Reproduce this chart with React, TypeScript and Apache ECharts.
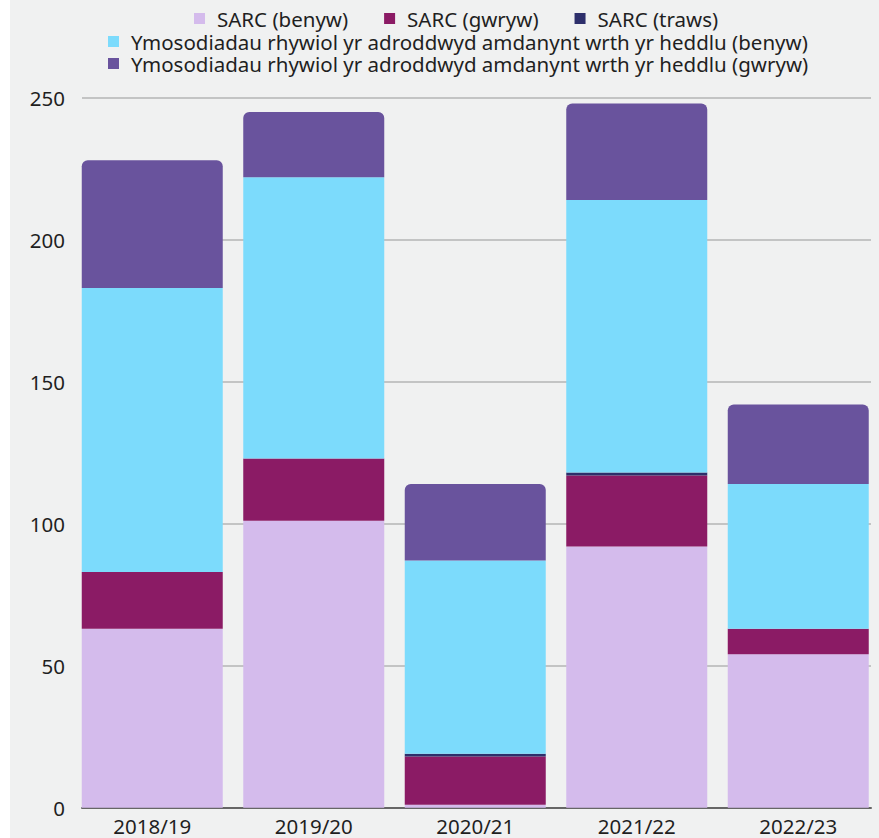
import React, { useEffect, useRef } from "react";
import * as echarts from "echarts";

const categories = ["2018/19", "2019/20", "2020/21", "2021/22", "2022/23"];
const sarcBenyw = [63, 101, 1, 92, 54];
const sarcGwryw = [20, 22, 17, 25, 9];
const sarcTraws = [0, 0, 1, 1, 0];
const heddluBenyw = [100, 99, 68, 96, 51];
const heddluGwryw = [45, 23, 27, 34, 28];
const seriesNames = [
  "SARC (benyw)",
  "SARC (gwryw)",
  "SARC (traws)",
  "Ymosodiadau rhywiol yr adroddwyd amdanynt wrth yr heddlu (benyw)",
  "Ymosodiadau rhywiol yr adroddwyd amdanynt wrth yr heddlu (gwryw)",
];
const colors = ["#d4bbec", "#8b1b65", "#2d2f6b", "#7cdbfc", "#69539d"];
const yTicks = [0, 50, 100, 150, 200, 250];

const FONT = "Noto Sans";
const FS = 20.5;

export default function App() {
  const ref = useRef<HTMLDivElement>(null);
  useEffect(() => {
    if (!ref.current) return;
    const chart = echarts.init(ref.current, null, { renderer: "svg" });
    const values = [sarcBenyw, sarcGwryw, sarcTraws, heddluBenyw, heddluGwryw];
    const legendText = {
      color: "#1f1f1f",
      fontFamily: FONT,
      fontSize: FS,
      lineHeight: 18,
      padding: [0, 0, 0, 7],
    };
    const legendBase = {
      orient: "horizontal",
      icon: "rect",
      itemWidth: 11,
      itemHeight: 11,
      itemGap: 36,
      padding: 0,
      textStyle: legendText,
      selectedMode: false,
    };
    chart.setOption({
      animation: false,
      backgroundColor: "transparent",
      legend: [
        { ...legendBase, data: seriesNames.slice(0, 3), left: 194, top: 8 },
        { ...legendBase, data: [seriesNames[3]], left: 108, top: 31 },
        { ...legendBase, data: [seriesNames[4]], left: 108, top: 53 },
      ],
      grid: [
        { left: 71.5, right: -2.5, top: 97.7, bottom: 30.3 },
        { left: 82, right: 8, top: 97.7, bottom: 30.3 },
      ],
      xAxis: [
        {
          type: "category",
          gridIndex: 0,
          data: categories,
          axisLine: { show: false },
          axisTick: { show: false },
          axisLabel: {
            color: "#1f1f1f",
            fontFamily: FONT,
            fontSize: FS,
            lineHeight: 16,
            margin: 10,
          },
        },
        {
          type: "value",
          gridIndex: 1,
          min: 0,
          max: 1,
          axisLine: { show: true, lineStyle: { color: "#666666", width: 2 } },
          axisTick: { show: false },
          axisLabel: { show: false },
          splitLine: { show: false },
        },
      ],
      yAxis: [
        { type: "value", gridIndex: 0, min: 0, max: 250, show: false, splitLine: { show: false } },
        {
          type: "value",
          gridIndex: 1,
          min: 0,
          max: 250,
          interval: 50,
          axisLine: { show: false },
          axisTick: { show: false },
          axisLabel: {
            color: "#1f1f1f",
            fontFamily: FONT,
            fontSize: FS,
            margin: 17,
            customValues: yTicks,
          },
          splitLine: { show: true, lineStyle: { color: "#b4b4b4", width: 1.5 } },
        },
      ],
      series: seriesNames.map((name, i) => ({
        name,
        type: "bar",
        stack: "total",
        xAxisIndex: 0,
        yAxisIndex: 0,
        barWidth: 141,
        data: values[i],
        itemStyle: {
          color: colors[i],
          borderRadius: i === 4 ? [6, 6, 0, 0] : 0,
        },
        emphasis: { disabled: true },
      })),
    });
    return () => chart.dispose();
  }, []);
  return (
    <div style={{ position: "fixed", left: 0, top: 0, width: 879, height: 838, background: "#ffffff" }}>
      <div style={{ position: "absolute", left: 10, top: 0, width: 869, height: 838, background: "#f0f1f1" }} />
      <div ref={ref} style={{ position: "absolute", left: 0, top: 0, width: 879, height: 838 }} />
    </div>
  );
}
